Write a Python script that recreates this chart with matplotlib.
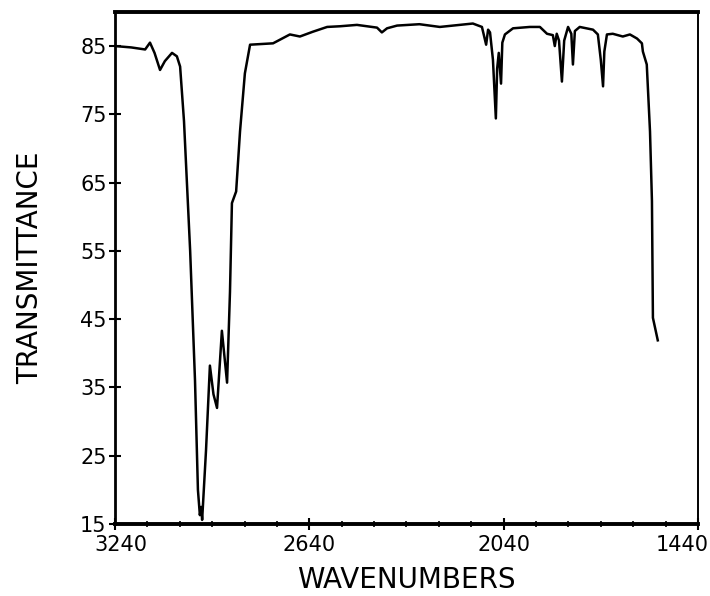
import numpy as np
import matplotlib
matplotlib.use("Agg")
import matplotlib.pyplot as plt
import matplotlib.transforms as mtransforms

# wavenumber (cm-1) and % transmittance
wavenumbers = [3240, 3190, 3147, 3132, 3118, 3101, 3086, 3064, 3049, 3039, 3027,
               3008, 2993, 2984, 2978, 2974, 2971, 2959, 2947, 2936, 2925, 2910,
               2894, 2885, 2879, 2866, 2854, 2839, 2823, 2752, 2700, 2669, 2629,
               2585, 2545, 2493, 2431, 2416, 2400, 2369, 2300, 2237, 2135, 2107,
               2094, 2088, 2082, 2073, 2064, 2060, 2055, 2048, 2044, 2036, 2011,
               1959, 1928, 1906, 1888, 1882, 1876, 1869, 1860, 1853, 1841, 1831,
               1826, 1820, 1805, 1764, 1749, 1740, 1733, 1729, 1721, 1703, 1672,
               1650, 1628, 1613, 1610, 1598, 1588, 1582, 1579, 1564]
transmittance = [85.0, 84.8, 84.5, 85.5, 84.0, 81.5, 82.8, 84.0, 83.5, 82.0, 74.0,
                 55.0, 36.0, 20.0, 16.3, 17.5, 15.6, 25.8, 38.2, 34.0, 32.0, 43.3,
                 35.7, 49.0, 62.0, 63.7, 72.5, 81.0, 85.2, 85.4, 86.7, 86.4, 87.1,
                 87.8, 87.9, 88.1, 87.7, 87.0, 87.6, 88.0, 88.2, 87.8, 88.3, 87.8,
                 85.2, 87.4, 87.0, 83.0, 74.4, 81.7, 84.0, 79.5, 85.5, 86.7, 87.6,
                 87.8, 87.8, 86.8, 86.6, 85.0, 86.8, 85.8, 79.8, 85.8, 87.8, 86.8,
                 82.3, 87.2, 87.8, 87.4, 86.7, 83.0, 79.1, 84.2, 86.7, 86.8, 86.4,
                 86.7, 86.1, 85.4, 84.2, 82.3, 72.5, 62.3, 45.2, 41.9]

y_ticks = [15, 25, 35, 45, 55, 65, 75, 85]
x_ticks = [3240, 2640, 2040, 1440]

fig = plt.figure(figsize=(7.1, 5.96), dpi=100)
ax = fig.add_axes([0.162, 0.1208, 0.821, 0.8592])

ax.plot(wavenumbers, transmittance, color="black", lw=1.8)

ax.set_xlim(3240, 1440)
ax.set_ylim(15, 90)
ax.set_xticks(x_ticks)
ax.set_xticks(np.arange(3240, 1439, -100), minor=True)
ax.set_yticks(y_ticks)
ax.set_xticklabels([str(v) for v in x_ticks])
ax.set_yticklabels([str(v) for v in y_ticks])

ax.tick_params(axis="both", which="major", direction="inout", length=8, width=1.5,
               labelsize=15, colors="black")
ax.tick_params(axis="x", which="minor", direction="inout", length=4, width=1.2)
ax.tick_params(axis="x", pad=4)
ax.tick_params(axis="y", pad=2)

# nudge the end labels the way the plotter placed them
fig.canvas.draw()
xlabels = ax.get_xticklabels()
xlabels[0].set_transform(xlabels[0].get_transform() +
                         mtransforms.ScaledTranslation(0.06, 0, fig.dpi_scale_trans))
xlabels[-1].set_transform(xlabels[-1].get_transform() +
                          mtransforms.ScaledTranslation(-0.16, 0, fig.dpi_scale_trans))

ax.spines["top"].set_linewidth(2.8)
ax.spines["bottom"].set_linewidth(2.8)
ax.spines["left"].set_linewidth(2.0)
ax.spines["right"].set_linewidth(1.4)

ax.set_xlabel("WAVENUMBERS", fontsize=20, labelpad=8)
ax.set_ylabel("TRANSMITTANCE", fontsize=20, labelpad=26)

fig.savefig("out.png", dpi=100)
